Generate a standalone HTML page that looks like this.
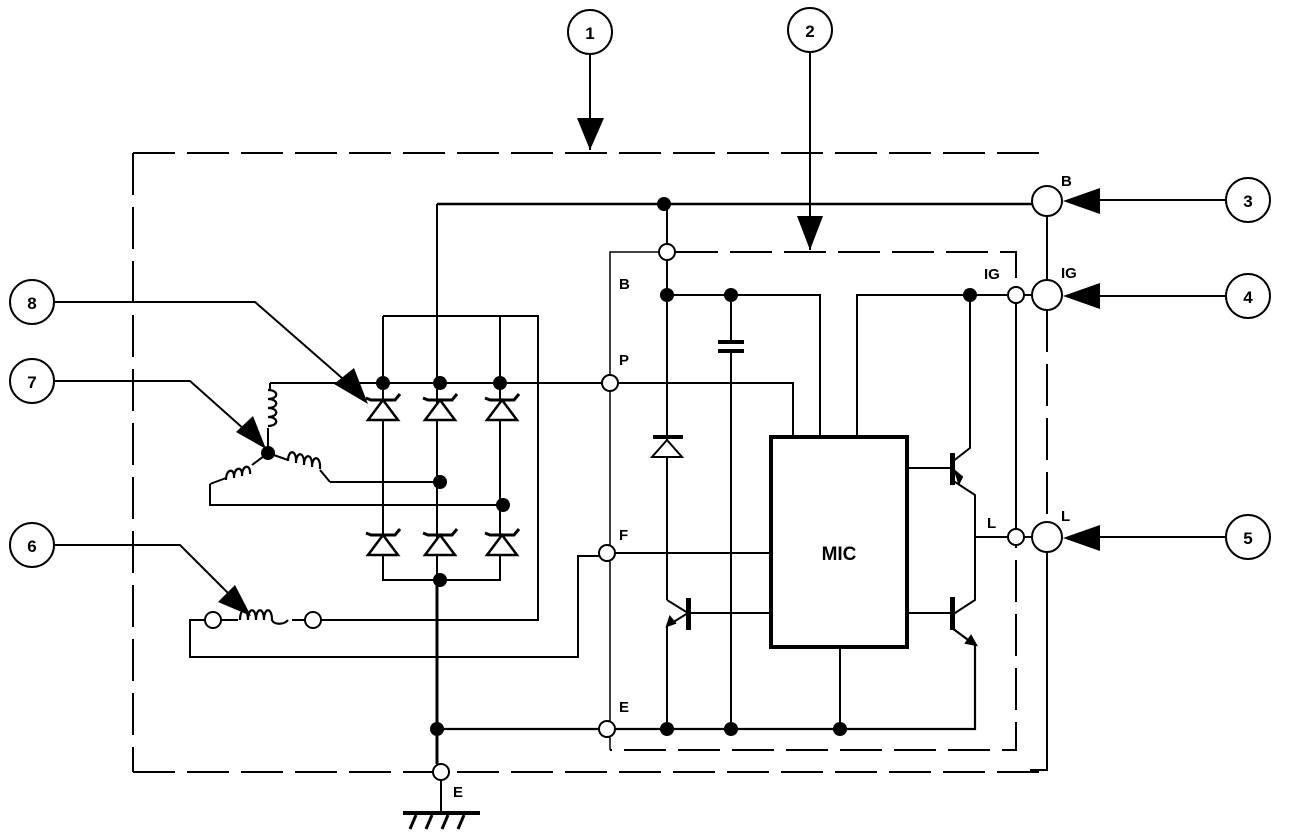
<!DOCTYPE html>
<html><head><meta charset="utf-8"><style>
html,body{margin:0;padding:0;background:#fff}
svg{display:block}
text{font-family:"Liberation Sans",sans-serif;font-weight:bold}
</style></head><body>
<svg width="1296" height="836" viewBox="0 0 1296 836" xmlns="http://www.w3.org/2000/svg">
<defs>
<g id="zu"><path d="M-17,-12 L-12,-10 L12,-10 L17,-16" fill="none" stroke="#000" stroke-width="3"/><path d="M0,-10 L-15,10 L15,10 Z" fill="#fff" stroke="#000" stroke-width="2.5"/></g>
</defs>
<g fill="none" stroke="#000" stroke-width="2">
<path d="M133,153 H1047" stroke-dasharray="42,12"/>
<path d="M133,153 V772" stroke-dasharray="42,12"/>
<path d="M133,772 H1047" stroke-dasharray="42,12"/>
<path d="M1047,216 V280"/>
<path d="M1047,310 V522" stroke-dasharray="42,12"/>
<path d="M1047,552 V770 H1030"/>
<path d="M676,252 H1016 V750 H610" stroke-dasharray="42,12"/>
<path d="M658,252 H610 V375 M610,391 V545 M610,561 V721 M610,737 V750" stroke-width="1.5"/>
<circle cx="590" cy="32" r="22"/><circle cx="810" cy="30" r="22"/>
<circle cx="1248" cy="200" r="22"/><circle cx="1248" cy="296" r="22"/><circle cx="1248" cy="537" r="22"/>
<circle cx="32" cy="545" r="22"/><circle cx="32" cy="381" r="22"/><circle cx="32" cy="302" r="22"/>
<path d="M590,54 V150"/><path d="M810,52 V250"/>
<path d="M1226,200 H1090 M1226,296 H1090 M1226,537 H1090"/>
<path d="M54,302 H255 L350,385"/><path d="M54,381 H190 L245,430"/><path d="M54,545 H180 L235,600"/>
<path d="M437,204 H1032" stroke-width="2.5"/>
<path d="M667,204 V244 M667,260 V600 M667,626 V729"/>
<path d="M667,295 H820 V437"/>
<path d="M731,295 V343 M731,352 V729"/>
<path d="M618,383 H793 V437"/>
<path d="M857,437 V295 H1008"/>
<path d="M970,295 V448 L952,462"/>
<path d="M1016,303 V529"/>
<path d="M907,468 H952 M907,613 H952"/>
<path d="M952,480 L975,495 V600 L952,615"/>
<path d="M975,537 H1008"/>
<path d="M952,628 L975,645 V729 H437" stroke-width="2.2"/>
<path d="M840,647 V729"/>
<path d="M1024,295 H1032 M1024,537 H1032"/>
<path d="M615,553 H771"/>
<path d="M771,613 H690"/>
<path d="M667,600 L688,613 L667,626"/>
<path d="M600,556 H578 V657 H190 V620 H205"/>
<path d="M437,204 V580" stroke-width="2"/>
<path d="M437,580 V764" stroke-width="3"/>
<path d="M441,780 V813"/>
<path d="M383,316 H538 V620 H321"/>
<path d="M383,316 V580 H500 V316 M437,316 V383"/>
<path d="M270,383 H602"/>
<path d="M330,482 H437 M210,484 V505 H503"/>
<path d="M270,383 V390 M268,428 V453"/>
<path d="M268,453 L288,460 M268,453 L252,465"/>
<path d="M320,470 L330,482"/>
<path d="M226,478 L210,484"/>
<path d="M221,620 H238 M292,620 H305"/>
</g>
<g fill="none" stroke="#000" stroke-width="2.2">
<path d="M268,390 c11,0 11,9 0,9 c11,0 11,9 0,9 c11,0 11,9 0,9 c11,0 11,9 0,9"/>
<path d="M288,461 c0,-12 9,-12 8,2 c0,-12 9,-12 8,2 c0,-12 9,-12 8,2 c0,-12 9,-12 8,2"/>
<path d="M226,480 c0,-12 9,-12 8,-2 c0,-12 9,-12 8,-2 c0,-12 9,-12 8,-2"/>
<path d="M240,620 c0,-13 8,-13 8,0 c0,-13 8,-13 8,0 c0,-13 8,-13 8,0 c0,-13 8,-13 8,0 c2,5 12,5 16,0"/>
</g>
<use href="#zu" x="383" y="410"/><use href="#zu" x="440" y="410"/><use href="#zu" x="502" y="410"/>
<use href="#zu" x="383" y="545"/><use href="#zu" x="440" y="545"/><use href="#zu" x="502" y="545"/>
<rect x="653" y="435" width="30" height="4" fill="#000"/>
<path d="M667,440 L652,457 L682,457 Z" fill="#fff" stroke="#000" stroke-width="2"/>
<rect x="718" y="340" width="26" height="4" fill="#000"/><rect x="718" y="349" width="26" height="4" fill="#000"/>
<rect x="686" y="598" width="5" height="32" fill="#000"/>
<rect x="950" y="453" width="5" height="32" fill="#000"/>
<rect x="950" y="597" width="5" height="33" fill="#000"/>
<path d="M962,477 L955,471 L959,483 Z M667,626 l3,-9 l5,6 Z M976,645 l-10,-2 l5,-7 Z" fill="#000" stroke="#000" stroke-width="2"/>
<rect x="771" y="437" width="136" height="210" fill="#fff" stroke="#000" stroke-width="4"/>
<text x="839" y="560" font-size="19" text-anchor="middle">MIC</text>
<g fill="#000">
<path d="M577,118 L604,118 L590,150 Z"/>
<path d="M797,216 L823,216 L810,250 Z"/>
<path d="M1063,201 L1100,188 L1100,214 Z"/>
<path d="M1063,296 L1100,283 L1100,309 Z"/>
<path d="M1063,538 L1100,525 L1100,551 Z"/>
<path d="M368,404 L334,384 L354,368 Z"/>
<path d="M266,449 L236,432 L253,416 Z"/>
<path d="M251,616 L218,602 L235,585 Z"/>
</g>
<g fill="#000">
<circle cx="664" cy="204" r="7"/><circle cx="667" cy="295" r="7"/><circle cx="731" cy="295" r="7"/>
<circle cx="970" cy="295" r="7"/>
<circle cx="383" cy="383" r="7"/><circle cx="440" cy="383" r="7"/><circle cx="500" cy="383" r="7"/>
<circle cx="268" cy="453" r="7"/><circle cx="440" cy="482" r="7"/><circle cx="503" cy="505" r="7"/><circle cx="440" cy="580" r="7"/>
<circle cx="437" cy="729" r="7"/><circle cx="667" cy="729" r="7"/><circle cx="731" cy="729" r="7"/><circle cx="840" cy="729" r="7"/>
</g>
<g fill="#fff" stroke="#000" stroke-width="2">
<circle cx="1047" cy="201" r="15"/><circle cx="1047" cy="295" r="15"/><circle cx="1047" cy="537" r="15"/>
<circle cx="667" cy="252" r="8"/><circle cx="1016" cy="295" r="8"/><circle cx="1016" cy="537" r="8"/>
<circle cx="610" cy="383" r="8"/><circle cx="607" cy="553" r="8"/><circle cx="607" cy="729" r="8"/>
<circle cx="441" cy="772" r="8"/><circle cx="213" cy="620" r="8"/><circle cx="313" cy="620" r="8"/>
</g>
<rect x="403" y="811" width="77" height="4" fill="#000"/>
<path d="M416,815 l-6,14 M432,815 l-6,14 M448,815 l-6,14 M464,815 l-6,14" stroke="#000" stroke-width="3"/>
<g font-size="17">
<text x="590" y="39" text-anchor="middle">1</text><text x="810" y="37" text-anchor="middle">2</text>
<text x="1248" y="207" text-anchor="middle">3</text><text x="1248" y="303" text-anchor="middle">4</text><text x="1248" y="544" text-anchor="middle">5</text>
<text x="32" y="552" text-anchor="middle">6</text><text x="32" y="388" text-anchor="middle">7</text><text x="32" y="309" text-anchor="middle">8</text>
</g>
<g font-size="15">
<text x="1061" y="186">B</text><text x="1061" y="278">IG</text><text x="1061" y="521">L</text>
<text x="984" y="279">IG</text><text x="987" y="528">L</text>
<text x="619" y="289">B</text><text x="619" y="365">P</text><text x="619" y="540">F</text><text x="619" y="712">E</text>
<text x="453" y="797">E</text>
</g>
</svg>
</body></html>
